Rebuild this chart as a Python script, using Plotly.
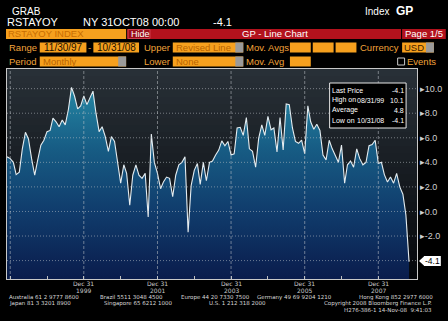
import plotly.graph_objects as go
import pandas as pd

# ---------------- data ----------------
start_month = "1997-11-30"
retail_yoy = [
    4.45, 4.3, 4.0, 3.0, 3.2, 5.1, 6.45, 5.9, 4.3, 2.95, 4.2, 5.4,
    5.8, 6.5, 6.6, 7.6, 7.3, 6.9, 7.45, 7.05, 8.3, 10.1, 9.4, 8.35,
    8.6, 9.4, 8.7, 9.2, 9.8, 8.0, 6.5, 6.9, 6.1, 4.9, 6.1, 5.7,
    3.8, 2.3, 3.8, 3.1, 0.5, 2.95, 3.8, 2.95, 2.7, 3.1, -0.45, 6.3,
    4.0, 3.1, 1.85, 2.4, 2.8, 2.7, 1.2, 2.95, 3.8, 4.0, 4.45, -1.7,
    2.1, 3.35, 3.9, 2.2, 4.0, 2.5, 4.0, 4.1, 4.6, 5.0, 5.75, 5.35,
    5.7, 4.6, 4.7, 6.8, 6.85, 6.2, 7.65, 5.1, 4.9, 3.6, 5.95, 7.05,
    6.2, 7.75, 6.65, 6.8, 4.85, 7.65, 5.0, 8.75, 8.7, 6.8, 5.7, 5.55,
    5.8, 4.7, 8.6, 7.3, 6.7, 7.1, 6.6, 4.6, 4.2, 5.8, 5.1, 4.6,
    4.0, 5.4, 2.3, 3.8, 4.1, 3.6, 5.1, 4.3, 3.8, 4.0, 5.35, 5.45,
    5.8, 3.9, 4.0, 3.0, 2.4, 2.8, 2.3, 3.1, 2.0, 1.4, -0.3, -4.1,
]
dates = pd.date_range(start_month, periods=len(retail_yoy), freq=pd.offsets.MonthEnd())

y_ticks = [-4, -2, 0, 2, 4, 6, 8, 10]
y_tick_text = ["", "-2.0", "0.0", "2.0", "4.0", "6.0", "8.0", "10.0"]
x_major = ["1997-12-31", "1999-12-31", "2001-12-31", "2003-12-31", "2005-12-31", "2007-12-31"]
x_label_day = ["", "Dec 31", "Dec 31", "Dec 31", "Dec 31", "Dec 31"]
x_label_year = ["", "1999", "2001", "2003", "2005", "2007"]
x_minor = ["1998-12-31", "2000-12-31", "2002-12-31", "2004-12-31", "2006-12-31"]
stats_labels = ["Last Price", "High on", "Average", "Low on"]
stats_dates = ["", "08/31/99", "", "10/31/08"]
stats_values = ["-4.1", "10.1", "4.8", "-4.1"]

Y_RANGE = [-5.5, 11.6]
X_RANGE = ["1997-11-29", "2009-01-18"]

# ---------------- geometry helpers (pixel -> paper) ----------------
W, H = 448, 321
ML, MR, MT, MB = 6, 29, 69, 42
PW, PH = W - ML - MR, H - MT - MB


def px(x):
    return (x - ML) / PW


def py(y):
    return (H - MB - y) / PH


FONT = "Liberation Sans"
FOOT = "DejaVu Sans"
ORANGE = "#f6a01e"
LABEL = "#f2a43a"
RED = "#b3121d"

fig = go.Figure()

# baseline for the area fill
fig.add_trace(go.Scatter(x=dates, y=[Y_RANGE[0]] * len(dates), mode="lines",
                         line=dict(width=0, color="rgba(0,0,0,0)"),
                         hoverinfo="skip", showlegend=False))
fig.add_trace(go.Scatter(
    x=dates, y=retail_yoy, mode="lines", fill="tonexty",
    fillgradient=dict(type="vertical", start=Y_RANGE[0], stop=max(retail_yoy),
                      colorscale=[[0, "#0a1c4c"], [0.35, "#103c6c"],
                                  [0.68, "#175c84"], [1, "#2486a3"]]),
    line=dict(color="#e4ecf0", width=1.1), showlegend=False, hoverinfo="skip"))

shapes = []
# background bands (gray at top to near-black at bottom)
nb = 30
top_c, bot_c = (41, 49, 56), (5, 7, 11)
for i in range(nb):
    t = (i + 0.5) / nb
    c = tuple(int(bot_c[k] + (top_c[k] - bot_c[k]) * t) for k in range(3))
    shapes.append(dict(type="rect", xref="paper", yref="paper", x0=0, x1=1,
                       y0=i / nb, y1=(i + 1) / nb, line=dict(width=0),
                       fillcolor="rgb(%d,%d,%d)" % c, layer="below"))

# gridlines drawn above the fill
for v in y_ticks:
    shapes.append(dict(type="line", xref="paper", yref="y", x0=0, x1=1, y0=v, y1=v,
                       line=dict(color="rgba(190,195,200,0.55)", width=1, dash="1px,2px"),
                       layer="above"))
for d in x_major:
    shapes.append(dict(type="line", xref="x", yref="paper", x0=d, x1=d, y0=0, y1=1,
                       line=dict(color="rgba(190,195,200,0.55)", width=1, dash="3px,2px"),
                       layer="above"))

# stats box
shapes.append(dict(type="rect", xref="paper", yref="paper", x0=px(331), x1=px(408),
                   y0=py(128), y1=py(83), fillcolor="black",
                   line=dict(color="#e8e8e8", width=1), layer="above"))

# last value flag
lv = retail_yoy[-1]
shapes.append(dict(type="rect", xref="paper", yref="paper", x0=px(426), x1=px(443),
                   y0=py(266), y1=py(256), fillcolor="white", line=dict(width=0)))
shapes.append(dict(type="path", xref="paper", yref="paper",
                   path="M %f %f L %f %f L %f %f Z" % (px(421), py(261), px(426.5), py(256), px(426.5), py(266)),
                   fillcolor="white", line=dict(width=0)))

# ---------------- header boxes ----------------
def box(x0, x1, y0, y1, color, line=None):
    shapes.append(dict(type="rect", xref="paper", yref="paper", x0=px(x0), x1=px(x1),
                       y0=py(y1), y1=py(y0), fillcolor=color,
                       line=dict(width=0) if line is None else line))


box(5, 126, 29, 39, ORANGE)
box(127, 403, 29, 39, RED)
box(128, 150, 29.5, 38.5, "#9c0e18", dict(color="#d04050", width=1))
box(404, 448, 29, 39, RED)
# row 2
box(39, 86, 42.5, 52.5, ORANGE)
box(93, 139, 42.5, 52.5, ORANGE)
box(173, 244, 42.5, 52.5, ORANGE)
box(236, 244, 42.5, 52.5, "#9a9a9a")
box(291, 312, 42.5, 52.5, ORANGE)
box(314, 335, 42.5, 52.5, ORANGE)
box(337, 358, 42.5, 52.5, ORANGE)
box(404, 436, 42.5, 52.5, ORANGE)
box(428, 436, 42.5, 52.5, "#9a9a9a")
# row 3
box(39, 126, 56.5, 66.5, ORANGE)
box(118, 126, 56.5, 66.5, "#9a9a9a")
box(173, 244, 56.5, 66.5, ORANGE)
box(236, 244, 56.5, 66.5, "#9a9a9a")
box(291, 312, 56.5, 66.5, ORANGE)
box(399.5, 406.5, 58, 65, "black", dict(color="#c8c8c8", width=1))

annotations = []


def txt(x, y, s, color="white", size=10, anchor="left", bold=False, family=FONT):
    if bold:
        s = "<b>" + s + "</b>"
    annotations.append(dict(x=px(x), y=py(y), xref="paper", yref="paper", text=s,
                            showarrow=False, xanchor=anchor, yanchor="middle", borderpad=0,
                            font=dict(color=color, size=size, family=family)))


txt(10, 11, "GRAB", size=10)
txt(5, 22, "RSTAYOY", size=11)
txt(82, 22, "NY 31OCT08 00:00", size=11)
txt(212, 22, "-4.1", size=11)
txt(366, 11, "Index", size=10)
txt(397, 11, "GP", size=12, bold=True)

txt(6, 34, "RSTAYOY INDEX", color="#c86d00", size=9.5)
txt(130, 34, "Hide", color="white", size=9)
txt(276, 34, "GP - Line Chart", color="white", size=9.5, anchor="center")
txt(426, 34, "Page 1/5", color="white", size=9.5, anchor="center")

txt(7, 47.5, "Range", color=LABEL, size=9.5)
txt(62.5, 47.5, "11/30/97", color="#1a1000", size=10, anchor="center")
txt(89.5, 47.5, "-", color=LABEL, size=9.5, anchor="center")
txt(116, 47.5, "10/31/08", color="#1a1000", size=10, anchor="center")
txt(143, 47.5, "Upper", color=LABEL, size=9.5)
txt(175, 47.5, "Revised Line", color="#b86400", size=9.5)
txt(246, 47.5, "Mov. Avgs", color=LABEL, size=9.5)
txt(361, 47.5, "Currency", color=LABEL, size=9.5)
txt(405, 47.5, "USD", color="#3a2000", size=9.5)

txt(7, 61.5, "Period", color=LABEL, size=9.5)
txt(41, 61.5, "Monthly", color="#b86400", size=9.5)
txt(143, 61.5, "Lower", color=LABEL, size=9.5)
txt(175, 61.5, "None", color="#b86400", size=9.5)
txt(246, 61.5, "Mov. Avg", color=LABEL, size=9.5)
txt(408, 61.5, "Events", color=LABEL, size=9.5)

# stats box text
for i, (lab, dt, val) in enumerate(zip(stats_labels, stats_dates, stats_values)):
    yy = 90 + i * 10.2
    txt(332, yy, lab, size=7)
    if dt:
        txt(358, yy, dt, size=7)
    txt(407, yy, val, size=7, anchor="right")

# last value label
annotations.append(dict(x=px(435), y=py(261), xref="paper", yref="paper",
                        text="%.1f" % lv, showarrow=False, xanchor="center", yanchor="middle",
                        font=dict(color="black", size=8.5, family=FONT)))

# x tick labels (two rows, placed tightly under the axis)
for d, day, yr in zip(x_major, x_label_day, x_label_year):
    if not day:
        continue
    for text, yy in ((day, 283.5), (yr, 290.3)):
        annotations.append(dict(x=d, y=py(yy), xref="x", yref="paper", text=text,
                                showarrow=False, xanchor="center", yanchor="middle", borderpad=0,
                                font=dict(color="#c8c8c8", size=6.0, family=FOOT)))

# footer (split into pieces placed like the terminal's fixed columns)
footer = [
    (7, 297, "Australia 61 2 9777 8600", "left"),
    (99, 297, "Brazil 5511 3048 4500", "left"),
    (180, 297, "Europe 44 20 7330 7500", "left"),
    (257, 297, "Germany 49 69 9204 1210", "left"),
    (436, 297, "Hong Kong 852 2977 6000", "right"),
    (7, 303.3, "Japan 81 3 3201 8900", "left"),
    (103, 303.3, "Singapore 65 6212 1000", "left"),
    (208, 303.3, "U.S. 1 212 318 2000", "left"),
    (435, 303.3, "Copyright 2008 Bloomberg Finance L.P.", "right"),
    (435, 309.5, "H276-386-1 14-Nov-08  9:41:03", "right"),
]
for fx, fy, s, a in footer:
    txt(fx, fy, s, color="#d8d8d8", size=5.5, anchor=a, family=FOOT)

fig.update_layout(
    width=W, height=H,
    margin=dict(l=ML, r=MR, t=MT, b=MB),
    paper_bgcolor="black", plot_bgcolor="#101418",
    shapes=shapes, annotations=annotations, showlegend=False,
    xaxis=dict(type="date", range=X_RANGE, showgrid=False, zeroline=False,
               tickvals=x_major, showticklabels=False, ticks="inside", ticklen=3,
               tickcolor="#c0c0c0",
               minor=dict(tickvals=x_minor, ticks="inside", ticklen=3, tickcolor="#c0c0c0"),
               showline=True, linecolor="#c8c8c8", linewidth=1, mirror=True),
    yaxis=dict(range=Y_RANGE, side="right", showgrid=False, zeroline=False,
               tickvals=y_ticks, ticktext=[("\u25b8" + t) if t else "" for t in y_tick_text],
               ticks="", tickfont=dict(color="#d0d0d0", size=9, family=FONT),
               showline=True, linecolor="#c8c8c8", linewidth=1, mirror=True),
)

fig.write_html("out.html")
